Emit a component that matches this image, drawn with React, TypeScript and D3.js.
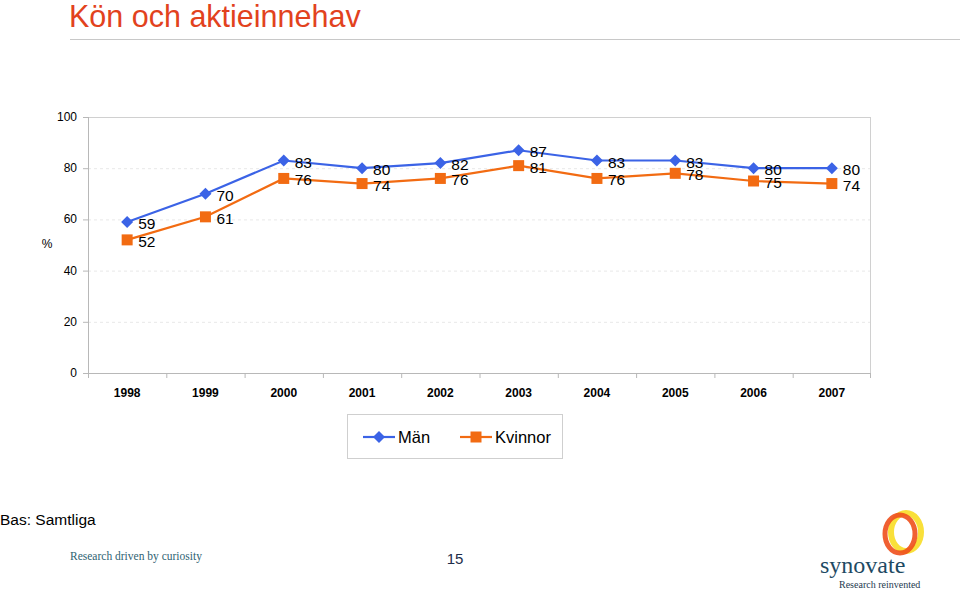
import React, { useEffect, useRef } from "react";
import * as d3 from "d3";

const years = ["1998", "1999", "2000", "2001", "2002", "2003", "2004", "2005", "2006", "2007"];
const man = [59, 70, 83, 80, 82, 87, 83, 83, 80, 80];
const kvinnor = [52, 61, 76, 74, 76, 81, 76, 78, 75, 74];
const yTicks = [0, 20, 40, 60, 80, 100];
const seriesNames = ["Män", "Kvinnor"];

const BLUE = "#3b63e6";
const ORANGE = "#f26b12";
const FONT = "'Liberation Sans', Arial, sans-serif";
const SERIF = "'Liberation Serif', 'DejaVu Serif', serif";

export default function App() {
  const ref = useRef<SVGSVGElement | null>(null);

  useEffect(() => {
    const svg = d3.select(ref.current);
    svg.selectAll("*").remove();

    const left = 88, right = 871, top = 117, bottom = 373;
    const x = d3.scaleBand<string>().domain(years).range([left, right]);
    const y = d3.scaleLinear().domain([0, 100]).range([bottom, top]);

    // Title
    svg.append("text").attr("x", 69).attr("y", 27).attr("font-family", FONT)
      .attr("font-size", 30.5).attr("fill", "#e2421d").text("Kön och aktieinnehav");
    svg.append("line").attr("x1", 70).attr("x2", 960).attr("y1", 39.5).attr("y2", 39.5)
      .attr("stroke", "#c8c8c8").attr("stroke-width", 1);

    const g = svg.append("g");
    yTicks.filter(t => t > 0 && t < 100).forEach(t => {
      g.append("line").attr("x1", left).attr("x2", right).attr("y1", y(t) + 0.5).attr("y2", y(t) + 0.5)
        .attr("stroke", "#e8e8e8").attr("stroke-dasharray", "3,3");
    });
    g.append("line").attr("x1", left).attr("x2", right).attr("y1", top + 0.5).attr("y2", top + 0.5).attr("stroke", "#d0d0d0");
    g.append("line").attr("x1", right - 0.5).attr("x2", right - 0.5).attr("y1", top).attr("y2", bottom).attr("stroke", "#d0d0d0");
    g.append("line").attr("x1", left + 0.5).attr("x2", left + 0.5).attr("y1", top).attr("y2", bottom).attr("stroke", "#b8b8b8");
    g.append("line").attr("x1", left).attr("x2", right).attr("y1", bottom + 0.5).attr("y2", bottom + 0.5).attr("stroke", "#b8b8b8");

    yTicks.forEach(t => {
      g.append("line").attr("x1", left - 5).attr("x2", left).attr("y1", y(t) + 0.5).attr("y2", y(t) + 0.5).attr("stroke", "#b8b8b8");
      g.append("text").attr("x", 77).attr("y", y(t) + 4).attr("text-anchor", "end")
        .attr("font-family", FONT).attr("font-size", 12).attr("fill", "#000").text(String(t));
    });
    svg.append("text").attr("x", 47).attr("y", 248).attr("text-anchor", "middle")
      .attr("font-family", FONT).attr("font-size", 12).text("%");

    years.forEach((yr, i) => {
      const bx = x(yr)!;
      g.append("line").attr("x1", bx + 0.5).attr("x2", bx + 0.5).attr("y1", bottom).attr("y2", bottom + 5).attr("stroke", "#b8b8b8");
      if (i === years.length - 1) {
        g.append("line").attr("x1", bx + x.bandwidth() - 0.5).attr("x2", bx + x.bandwidth() - 0.5).attr("y1", bottom).attr("y2", bottom + 5).attr("stroke", "#b8b8b8");
      }
      g.append("text").attr("x", bx + x.bandwidth() / 2).attr("y", 397).attr("text-anchor", "middle")
        .attr("font-family", FONT).attr("font-weight", "bold").attr("font-size", 12).text(yr);
    });

    const cx = (i: number) => x(years[i])! + x.bandwidth() / 2;
    const line = d3.line<number>().x((_, i) => cx(i)).y(d => y(d));

    const diamondPath = (s: number) => `M0,${-s}L${s},0L0,${s}L${-s},0Z`;
    const squarePath = (s: number) => `M${-s},${-s}H${s}V${s}H${-s}Z`;

    const drawSeries = (data: number[], color: string, shape: "diamond" | "square") => {
      g.append("path").attr("d", line(data)!).attr("fill", "none").attr("stroke", color).attr("stroke-width", 2.2);
      data.forEach((v, i) => {
        g.append("path").attr("d", shape === "diamond" ? diamondPath(6) : squarePath(5.5))
          .attr("transform", `translate(${cx(i)},${y(v)})`).attr("fill", color);
        g.append("text").attr("x", cx(i) + 11).attr("y", y(v) + 7)
          .attr("font-family", FONT).attr("font-size", 15.5).attr("fill", "#000").text(String(v));
      });
    };
    drawSeries(man, BLUE, "diamond");
    drawSeries(kvinnor, ORANGE, "square");

    const lg = svg.append("g");
    lg.append("rect").attr("x", 347.5).attr("y", 414.5).attr("width", 215).attr("height", 44)
      .attr("fill", "#fff").attr("stroke", "#cfcfcf");
    const items = [
      { name: seriesNames[0], color: BLUE, d: diamondPath(6), x0: 363 },
      { name: seriesNames[1], color: ORANGE, d: squarePath(5.5), x0: 460 },
    ];
    items.forEach(it => {
      lg.append("line").attr("x1", it.x0).attr("x2", it.x0 + 32).attr("y1", 437).attr("y2", 437)
        .attr("stroke", it.color).attr("stroke-width", 2.2);
      lg.append("path").attr("d", it.d)
        .attr("transform", `translate(${it.x0 + 16},437)`).attr("fill", it.color);
      lg.append("text").attr("x", it.x0 + 35).attr("y", 443).attr("font-family", FONT)
        .attr("font-size", 16.5).text(it.name);
    });

    svg.append("text").attr("x", 0).attr("y", 525).attr("font-family", FONT).attr("font-size", 15.5).text("Bas: Samtliga");
    svg.append("text").attr("x", 70).attr("y", 560).attr("font-family", SERIF)
      .attr("font-size", 11.5).attr("fill", "#2f6373").text("Research driven by curiosity");
    svg.append("text").attr("x", 455).attr("y", 564).attr("text-anchor", "middle").attr("font-family", FONT)
      .attr("font-size", 15).attr("fill", "#1d2d4a").text("15");

    const logo = svg.append("g");
    logo.append("ellipse").attr("cx", 906).attr("cy", 532).attr("rx", 15).attr("ry", 19)
      .attr("fill", "none").attr("stroke", "#f9e03a").attr("stroke-width", 6);
    logo.append("ellipse").attr("cx", 900).attr("cy", 534).attr("rx", 15).attr("ry", 19)
      .attr("fill", "none").attr("stroke", "#ee4f1c").attr("stroke-width", 5).attr("opacity", 0.9);
    logo.append("text").attr("x", 820).attr("y", 573).attr("font-family", SERIF)
      .attr("font-size", 24).attr("fill", "#1e4a63").text("synovate");
    logo.append("text").attr("x", 839).attr("y", 588).attr("font-family", SERIF)
      .attr("font-size", 10).attr("fill", "#1e3a50").text("Research reinvented");
  }, []);

  return (
    <svg ref={ref} width={960} height={591}
      style={{ position: "absolute", left: 0, top: 0, background: "#fff" }} />
  );
}
